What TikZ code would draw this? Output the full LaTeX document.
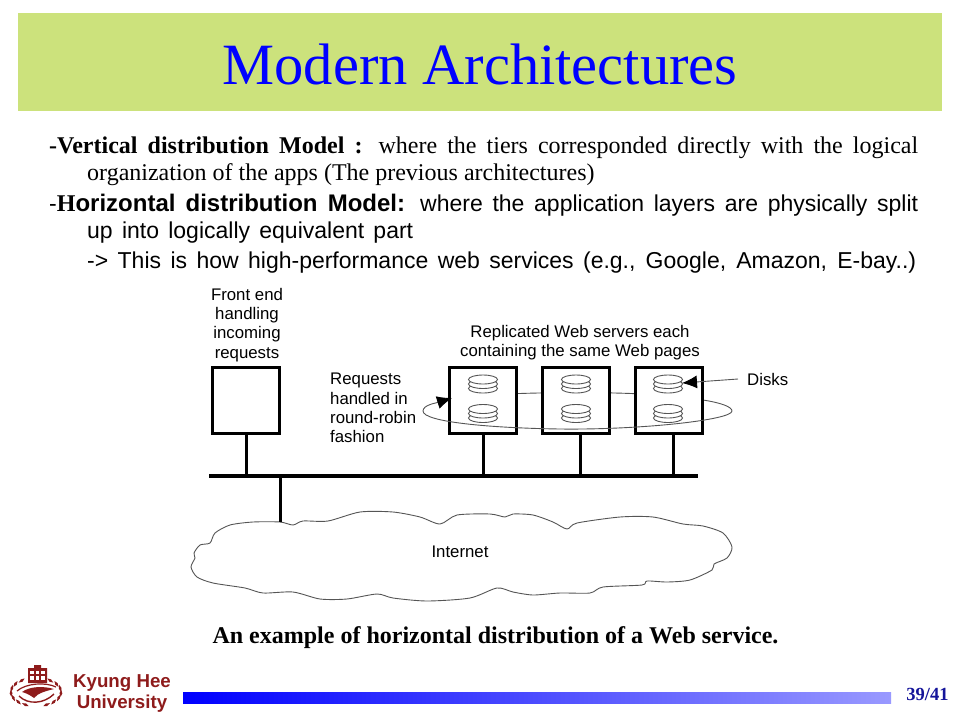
\documentclass[tikz,border=0pt]{standalone}
\usepackage{fontspec}
\usetikzlibrary{arrows.meta}
\setmainfont{Liberation Serif}
\setsansfont{Liberation Sans}
\definecolor{bandgreen}{HTML}{CCE27C}
\definecolor{khured}{HTML}{8E1B1B}
\definecolor{pagenavy}{HTML}{14149A}
\definecolor{linegray}{HTML}{555555}
\newcommand{\serifbody}{\fontsize{24}{27}\selectfont}
\newcommand{\sansbody}{\sffamily\fontsize{23}{27}\selectfont}
\tikzset{
	pics/diskstack/.style={
		code={
			\foreach \h in {4.5,0,-4.5}{
				\draw[linegray, fill=white, line width=0.9pt] (0,\h) ellipse (14.5 and 4.5);
			}
		}
	},
	pics/leaf/.style={
		code={
			\fill[khured] (-3.6,0) .. controls (-1,-1.9) and (1,-1.9) .. (3.6,0) .. controls (1,1.9) and (-1,1.9) .. (-3.6,0) -- cycle;
		}
	},
	serverbox/.style={draw, line width=2.2pt, fill=white, minimum width=67pt, minimum height=66pt, inner sep=0pt},
	figlabel/.style={font=\sffamily\fontsize{16.8}{19.3}\selectfont, inner sep=0pt, align=center},
	busline/.style={line width=3.5pt},
	stubline/.style={line width=3pt},
	ringline/.style={linegray, line width=0.9pt}
}
\begin{document}
\begin{tikzpicture}[x=1pt,y=-1pt]
	\useasboundingbox (0,0) rectangle (960,720);
	% title band
	\fill[bandgreen] (18,13) rectangle (942,111);
	\node[blue, font=\fontsize{58.5}{60}\selectfont] (title) at (480,64.5) {Modern Architectures};

	% body text
	\node[anchor=north west, inner sep=0pt, align=left, font=\serifbody] (vertical) at (49,136.5) {%
		\makebox[869pt][s]{\textbf{-Vertical distribution Model :} where the tiers corresponded directly with the logical}\\
		\hspace*{38pt}organization of the apps (The previous architectures)};
	\node[anchor=north west, inner sep=0pt, align=left, font=\sansbody] (horizontal) at (49,194) {%
		\makebox[869pt][s]{-\textbf{\fontsize{24}{27}\selectfont{\rmfamily H}orizontal distribution Model:} where the application layers are physically split}\\
		\hspace*{38pt}\makebox[326pt][s]{up into logically equivalent part}};
	\node[anchor=north west, inner sep=0pt, font=\sansbody] (howto) at (87,252) {%
		\makebox[829pt][s]{-> This is how high-performance web services (e.g., Google, Amazon, E-bay..)}};

	% ring, upper part runs behind the boxes
	\coordinate (ringtip) at (452,398);
	\draw[ringline] (ringtip) .. controls (480,393) and (640,388) .. (703,400) .. controls (722,403) and (732,407) .. (732,411);

	% front end and servers
	\node[serverbox] (front) at (246,400.5) {};
	\node[serverbox] (srvA) at (483,400.5) {};
	\node[serverbox] (srvB) at (576,400.5) {};
	\node[serverbox] (srvC) at (669,400.5) {};
	\foreach \x in {483,576,668}{
		\pic at (\x,384) {diskstack};
		\pic at (\x,413.5) {diskstack};
	}

	% ring, lower part runs over the boxes
	\draw[ringline, -{Latex[black,length=15pt,width=13pt]}] (732,411) .. controls (732,420) and (640,430) .. (560,429) .. controls (490,428) and (423,422) .. (423,411) .. controls (423,405) and (436,403) .. (ringtip);

	% bus
	\coordinate (busL) at (209,476);
	\coordinate (busR) at (698,476);
	\coordinate (stubB) at (580,434);
	\coordinate (stubC) at (673,434);
	\draw[busline] (busL) -- (busR);
	\draw[stubline] (front.south) -- (front.south |- busL);
	\draw[stubline] (srvA.south) -- (srvA.south |- busL);
	\draw[stubline] (stubB) -- (stubB |- busL);
	\draw[stubline] (stubC) -- (stubC |- busL);

	% cloud
	\draw[linegray, line width=0.9pt, fill=white] plot[smooth cycle, tension=0.45] coordinates {
		(280,522) (293,525) (303,521) (328,521) (360,512) (393,512) (420,517) (440,524)
		(457,515) (490,514) (505,517) (513,514) (533,515) (553,522) (567,529) (577,523)
		(620,517) (653,517) (683,524) (703,526) (723,533) (732,547) (727,558) (714,564)
		(712,570) (690,580) (667,582) (647,581) (642,585) (603,587) (590,593) (560,593)
		(533,595) (513,592) (497,588) (470,598) (427,601) (393,598) (377,594) (347,599)
		(320,599) (293,592) (263,593) (245,588) (213,583) (197,577) (191,567) (195,558)
		(194,553) (200,545) (210,543) (215,533) (230,525) (253,522)};
	\coordinate (cloudtop) at (280,522);
	\draw[stubline] (cloudtop |- busL) -- (cloudtop);

	% figure labels
	\node[figlabel] (frontlab) at (247,325) {Front end\\handling\\incoming\\requests};
	\node[figlabel] (replab) at (580,343) {Replicated Web servers each\\containing the same Web pages};
	\node[figlabel, align=left, anchor=west] (rrlab) at (330,408) {Requests\\handled in\\round-robin\\fashion};
	\node[figlabel, anchor=west] (disklab) at (747,379) {Disks};
	\node[figlabel] (netlab) at (460,552) {Internet};
	\coordinate (disktip) at (682,383);
	\draw[linegray, line width=0.9pt, -{Latex[black,length=15pt,width=13pt]}] ([xshift=-9pt]disklab.west) -- (disktip);

	% caption
	\node[font=\bfseries\fontsize{24}{26}\selectfont] (caption) at (495.5,638) {An example of horizontal distribution of a Web service.};

	% logo
	\fill[khured] (28,668) -- (34,668) -- (34,665) -- (41,665) -- (41,668) -- (47,668) -- (47,683) -- (28,683) -- cycle;
	\foreach \x in {30,35.7,41.4}{
		\fill[white] (\x,670.5) rectangle +(3.6,3.6);
		\fill[white] (\x,676) rectangle +(3.6,3.6);
	}
	\foreach \a in {125,145,165,185,205,225,245}{
		\pic[rotate=\a+90] at ({36+25*cos(\a)},{692-14*sin(\a)}) {leaf};
	}
	\foreach \a in {55,35,15,-5,-25,-45,-65}{
		\pic[rotate=\a+90] at ({36+25*cos(\a)},{692-14*sin(\a)}) {leaf};
	}
	\draw[khured, line width=1.2pt] (17,691) .. controls (26,683) and (46,682) .. (56,687);
	\fill[khured] (22,692) .. controls (30,686) and (44,686) .. (54,689) .. controls (46,691) and (38,693) .. (34,698) .. controls (30,695) and (26,693) .. (22,692) -- cycle;
	\draw[khured, line width=1.4pt] (19,696) .. controls (28,705) and (44,704) .. (54,694);

	% footer
	\shade[left color=blue, right color=blue!40] (183,692) rectangle (891,703);
	\node[khured, font=\sffamily\bfseries\fontsize{18.7}{21}\selectfont, align=center] (khu) at (122,693) {Kyung Hee\\University};
	\node[pagenavy, font=\bfseries\fontsize{18.5}{20}\selectfont] (page) at (927.5,694) {39/41};
\end{tikzpicture}
\end{document}
